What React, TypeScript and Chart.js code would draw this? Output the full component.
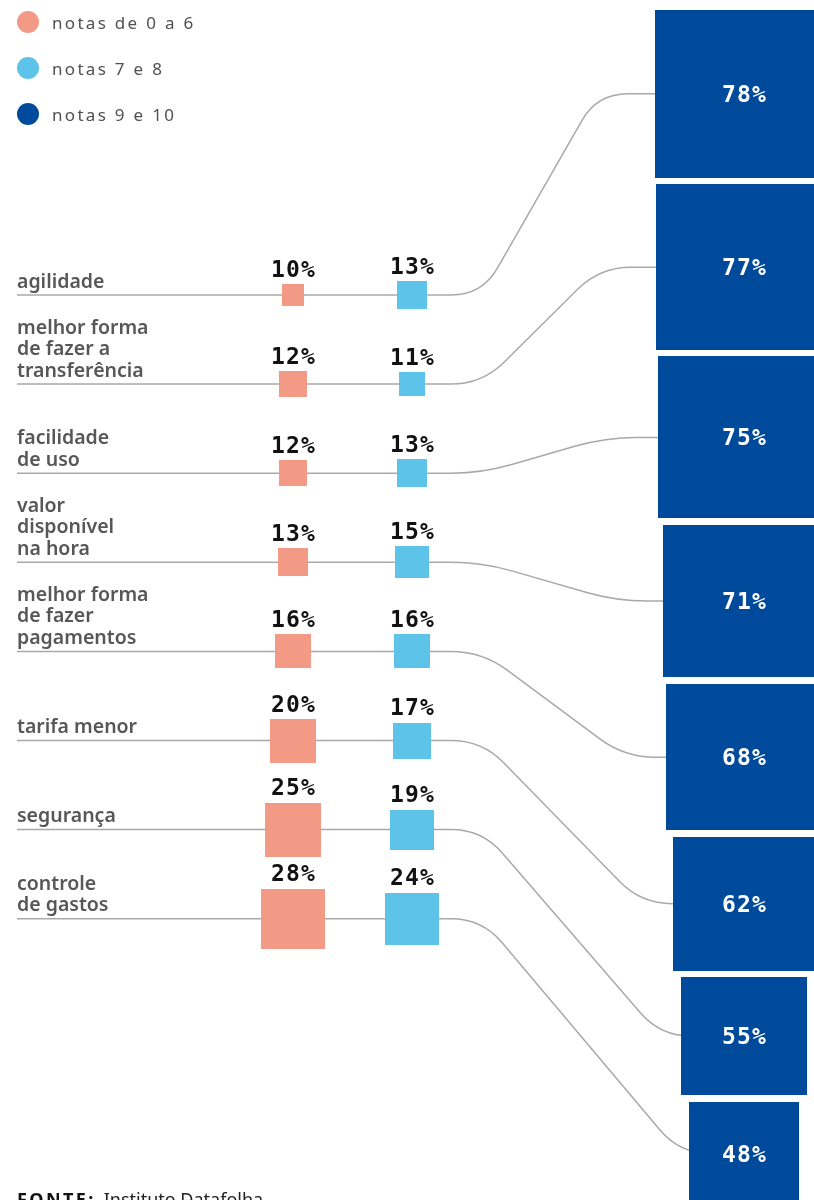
import { useEffect, useRef } from "react";
import { Chart, registerables } from "chart.js";

Chart.register(...registerables);

// ---- data ----
const categories: string[][] = [
  ["agilidade"],
  ["melhor forma", "de fazer a", "transferência"],
  ["facilidade", "de uso"],
  ["valor", "disponível", "na hora"],
  ["melhor forma", "de fazer", "pagamentos"],
  ["tarifa menor"],
  ["segurança"],
  ["controle", "de gastos"],
];
const lowScores = [10, 12, 12, 13, 16, 20, 25, 28];
const midScores = [13, 11, 13, 15, 16, 17, 19, 24];
const highScores = [78, 77, 75, 71, 68, 62, 55, 48];
const seriesLabels = ["notas de 0 a 6", "notas 7 e 8", "notas 9 e 10"];
const sourceLabel = "FONTE:";
const sourceText = "Instituto Datafolha";

// ---- layout / style ----
const W = 814;
const H = 1200;
const COL_LOW = 293;
const COL_MID = 412;
const COL_HIGH = 744;
const LABEL_X = 17;
const BEND_X = 482;
const ROW_FIRST_PX = 295;
const ROW_STEP_PX = 89.1;
const PCT_V = 2.15; // px per point, vertical
const PCT_H = 2.28; // px per point, horizontal
const BOX_TOP_PX = 10;
const BOX_GAP_PX = 6.75;
const COLORS = {
  low: "#f29a86",
  mid: "#5dc3e8",
  high: "#004a9b",
  line: "#a9a9a9",
  label: "#575757",
  value: "#111111",
};
const VALUE_FONT = 'bold 23px "DejaVu Sans Mono"';
const LABEL_FONT = '600 19.5px "Noto Sans"';

const boxCenters: number[] = [];
{
  let acc = BOX_TOP_PX / PCT_V;
  highScores.forEach((v) => {
    boxCenters.push(acc + v / 2);
    acc += v + BOX_GAP_PX / PCT_V;
  });
}

const imgCache = new Map<string, HTMLCanvasElement>();
function rectImage(w: number, h: number, color: string) {
  const iw = Math.max(2, 2 * Math.round(w / 2));
  const ih = Math.max(2, 2 * Math.round(h / 2));
  const key = `${iw}x${ih}${color}`;
  let c = imgCache.get(key);
  if (!c) {
    c = document.createElement("canvas");
    c.width = iw;
    c.height = ih;
    const g = c.getContext("2d")!;
    g.fillStyle = color;
    g.fillRect(0, 0, iw, ih);
    imgCache.set(key, c);
  }
  return c;
}

function pctHeight(chart: any, v: number) {
  const yb = chart.scales.yBox;
  return Math.abs(yb.getPixelForValue(v) - yb.getPixelForValue(0));
}
function pctWidth(chart: any, v: number) {
  return pctHeight(chart, v) * (PCT_H / PCT_V);
}

function styleFor(values: number[], color: string) {
  return (ctx: any) => {
    const chart = ctx.chart;
    if (ctx.dataIndex === undefined || !chart.scales || !chart.scales.yBox) return "rect";
    const v = values[ctx.dataIndex];
    return rectImage(pctWidth(chart, v), pctHeight(chart, v), color);
  };
}

const overlay = {
  id: "overlay",
  beforeDatasetsDraw(chart: any) {
    const { ctx } = chart;
    const xs = chart.scales.x;
    const ys = chart.scales.y;
    const yb = chart.scales.yBox;
    ctx.save();
    ctx.strokeStyle = COLORS.line;
    ctx.lineWidth = 1.5;
    highScores.forEach((v, i) => {
      const y0 = ys.getPixelForValue(i);
      const y1 = yb.getPixelForValue(boxCenters[i]);
      const cx = xs.getPixelForValue(COL_HIGH);
      const left = cx - pctWidth(chart, v) / 2;
      const xStart = xs.getPixelForValue(LABEL_X);
      const x1 = xs.getPixelForValue(BEND_X);
      const x2 = left - (15 + 1.62 * (v - 51.5));
      const dx = x2 - x1;
      const dy = y1 - y0;
      const len = Math.hypot(dx, dy);
      const ux = dx / len;
      const uy = dy / len;
      const t = Math.min(31, len / 2.2);
      ctx.beginPath();
      ctx.moveTo(xStart, y0);
      ctx.lineTo(x1 - t, y0);
      ctx.quadraticCurveTo(x1, y0, x1 + ux * t, y0 + uy * t);
      ctx.lineTo(x2 - ux * t, y1 - uy * t);
      ctx.quadraticCurveTo(x2, y1, x2 + t, y1);
      ctx.lineTo(cx, y1);
      ctx.stroke();
    });
    ctx.restore();
  },
  afterDatasetsDraw(chart: any) {
    const { ctx } = chart;
    const xs = chart.scales.x;
    const ys = chart.scales.y;
    const yb = chart.scales.yBox;
    ctx.save();

    // category labels
    ctx.font = LABEL_FONT;
    ctx.fillStyle = COLORS.label;
    ctx.textAlign = "left";
    ctx.textBaseline = "alphabetic";
    categories.forEach((lines, i) => {
      const y0 = ys.getPixelForValue(i);
      const n = lines.length;
      lines.forEach((line, k) => {
        ctx.fillText(line, xs.getPixelForValue(LABEL_X), y0 - 7.5 - (n - 1 - k) * 21.5);
      });
    });

    // value labels above small squares
    ctx.font = VALUE_FONT;
    (ctx as any).letterSpacing = "1.2px";
    ctx.textAlign = "center";
    ctx.fillStyle = COLORS.value;
    [
      [lowScores, COL_LOW],
      [midScores, COL_MID],
    ].forEach(([vals, col]: any) => {
      (vals as number[]).forEach((v, i) => {
        const y0 = ys.getPixelForValue(i);
        const h = pctHeight(chart, v);
        ctx.fillText(`${v}%`, xs.getPixelForValue(col) + 0.6, y0 - h / 2 - 7.5);
      });
    });

    // box labels
    ctx.fillStyle = "#ffffff";
    highScores.forEach((v, i) => {
      const cy = yb.getPixelForValue(boxCenters[i]);
      ctx.fillText(`${v}%`, xs.getPixelForValue(COL_HIGH) + 0.6, cy + 8);
    });

    // legend
    const legendColors = [COLORS.low, COLORS.mid, COLORS.high];
    ctx.font = '17px "Noto Sans"';
    (ctx as any).letterSpacing = "2.3px";
    ctx.textAlign = "left";
    seriesLabels.forEach((s, i) => {
      const cy = 22 + i * 46;
      ctx.beginPath();
      ctx.fillStyle = legendColors[i];
      ctx.arc(28, cy, 11, 0, Math.PI * 2);
      ctx.fill();
      ctx.fillStyle = "#505050";
      ctx.fillText(s, 52, cy + 7);
    });

    // source
    ctx.font = 'bold 18px "Noto Sans"';
    (ctx as any).letterSpacing = "2.4px";
    ctx.fillStyle = "#111111";
    ctx.fillText(sourceLabel, 17, 1206);
    const w = ctx.measureText(sourceLabel).width;
    ctx.font = '18px "Noto Sans"';
    (ctx as any).letterSpacing = "0px";
    ctx.fillStyle = "#222222";
    ctx.fillText(sourceText, 17 + w + 8, 1206);

    ctx.restore();
  },
};

export default function App() {
  const ref = useRef<HTMLCanvasElement | null>(null);
  useEffect(() => {
    document.body.style.margin = "0";
    const canvas = ref.current!;
    const chart = new Chart(canvas, {
      type: "scatter",
      data: {
        datasets: [
          {
            label: seriesLabels[0],
            data: lowScores.map((_, i) => ({ x: COL_LOW, y: i })),
            yAxisID: "y",
            pointStyle: styleFor(lowScores, COLORS.low) as any,
            pointRadius: 1,
            pointHoverRadius: 1,
            backgroundColor: COLORS.low,
            borderWidth: 0,
          },
          {
            label: seriesLabels[1],
            data: midScores.map((_, i) => ({ x: COL_MID, y: i })),
            yAxisID: "y",
            pointStyle: styleFor(midScores, COLORS.mid) as any,
            pointRadius: 1,
            pointHoverRadius: 1,
            backgroundColor: COLORS.mid,
            borderWidth: 0,
          },
          {
            label: seriesLabels[2],
            data: highScores.map((_, i) => ({ x: COL_HIGH, y: boxCenters[i] })),
            yAxisID: "yBox",
            pointStyle: styleFor(highScores, COLORS.high) as any,
            pointRadius: 1,
            pointHoverRadius: 1,
            backgroundColor: COLORS.high,
            borderWidth: 0,
            clip: false as any,
          },
        ],
      },
      options: {
        animation: false,
        responsive: false,
        devicePixelRatio: 1,
        events: [],
        layout: { padding: 0, autoPadding: false },
        plugins: { legend: { display: false }, tooltip: { enabled: false } },
        scales: {
          x: { type: "linear", min: 0, max: W, display: false },
          y: {
            type: "linear",
            reverse: true,
            min: -ROW_FIRST_PX / ROW_STEP_PX,
            max: (H - ROW_FIRST_PX) / ROW_STEP_PX,
            display: false,
          },
          yBox: { type: "linear", reverse: true, min: 0, max: H / PCT_V, display: false },
        },
      },
      plugins: [overlay],
    });
    return () => chart.destroy();
  }, []);
  return (
    <div style={{ width: W, height: H, overflow: "hidden" }}>
      <canvas ref={ref} width={W} height={H} style={{ display: "block", width: W, height: H }} />
    </div>
  );
}
